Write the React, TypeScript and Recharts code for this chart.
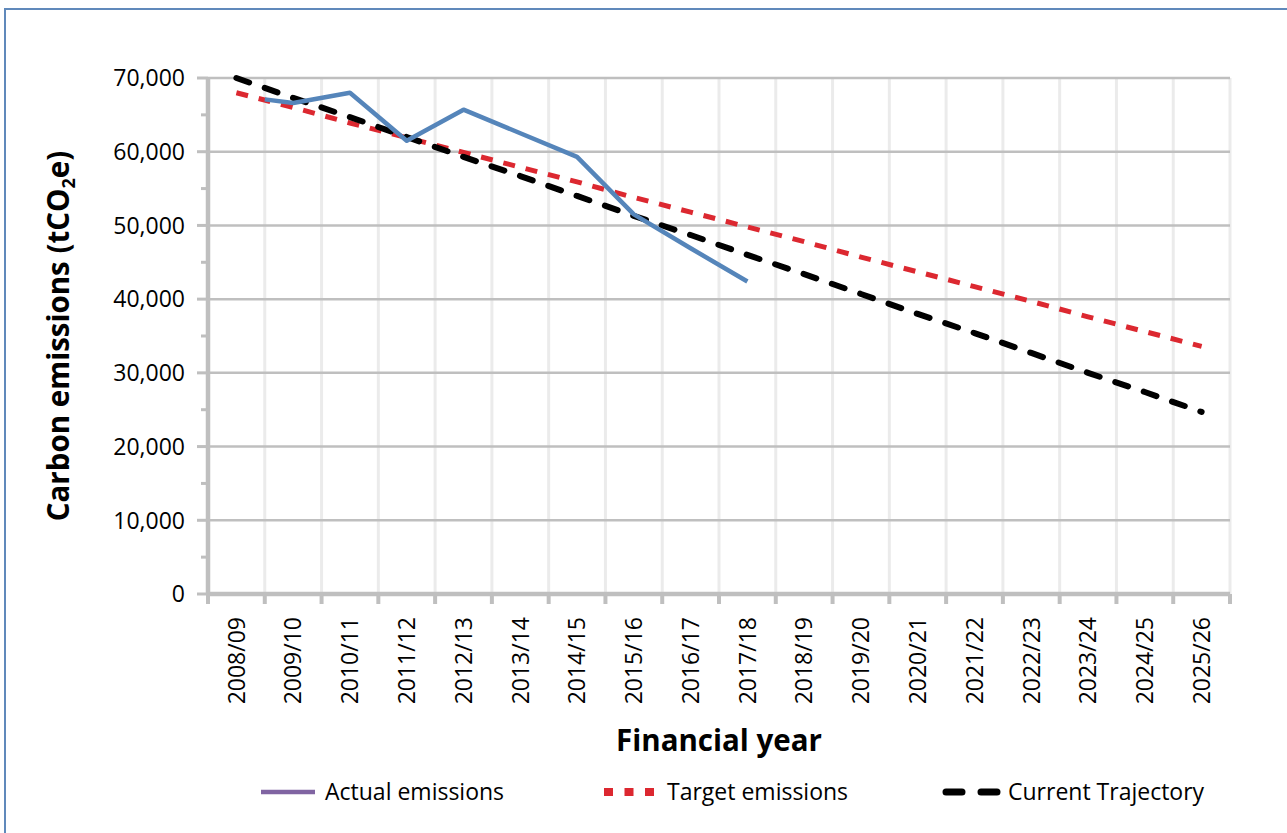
import React from 'react';
import { LineChart, Line, XAxis, YAxis, CartesianGrid } from 'recharts';

const categories = [
  '2008/09', '2009/10', '2010/11', '2011/12', '2012/13', '2013/14',
  '2014/15', '2015/16', '2016/17', '2017/18', '2018/19', '2019/20',
  '2020/21', '2021/22', '2022/23', '2023/24', '2024/25', '2025/26',
];

// The actual-emissions line begins on the boundary between the first two years.
const actualStartPosition = 1;
const actualStartValue = 67100;
const actualEmissions: (number | null)[] = [
  null, 66600, 68000, 61500, 65700, 62500, 59300, 51500, 46900, 42400,
  null, null, null, null, null, null, null, null,
];
const targetEmissions = [
  68000, 66000, 63900, 61900, 59900, 57900, 55900, 53800, 51800,
  49800, 47800, 45700, 43700, 41700, 39700, 37600, 35600, 33600,
];
const currentTrajectory = [
  70000, 67300, 64700, 62000, 59300, 56700, 54000, 51300, 48700,
  46000, 43400, 40700, 38000, 35400, 32700, 30000, 27400, 24700,
];
const yMajorTicks = [0, 10000, 20000, 30000, 40000, 50000, 60000, 70000];
const yMinorTicks = [5000, 15000, 25000, 35000, 45000, 55000, 65000];

const toRows = (values: (number | null)[]) =>
  values
    .map((value, i) => ({ pos: i + 0.5, value }))
    .filter((r) => r.value !== null);

const actualData = [{ pos: actualStartPosition, value: actualStartValue }, ...toRows(actualEmissions)];
const targetData = toRows(targetEmissions);
const trajectoryData = toRows(currentTrajectory);

const boundaries = categories.map((_, i) => i).concat([categories.length]);
const centers = categories.map((_, i) => i + 0.5);
const xTicks = [...boundaries, ...centers].sort((a, b) => a - b);
const yTicks = [...yMajorTicks, ...yMinorTicks].sort((a, b) => a - b);

const AXIS = '#bfbfbf';
const FONT = '"Open Sans", "Noto Sans", sans-serif';

const fmt = (v: number) => v.toLocaleString('en-US');

const XTick = (props: any) => {
  const { x, y, payload } = props;
  const v = payload.value as number;
  if (Number.isInteger(v)) {
    return <line x1={x} y1={y} x2={x} y2={y + 10} stroke={AXIS} strokeWidth={4} />;
  }
  const label = categories[Math.floor(v)];
  const ty = y + 23;
  return (
    <text
      x={x}
      y={ty}
      transform={`rotate(-90, ${x}, ${ty})`}
      textAnchor="end"
      dy="0.36em"
      fontFamily={FONT}
      fontSize={23}
      fill="#000"
    >
      {label}
    </text>
  );
};

const YTick = (props: any) => {
  const { x, y, payload } = props;
  const v = payload.value as number;
  const major = yMajorTicks.includes(v);
  return (
    <g>
      <line x1={x - (major ? 11 : 7)} y1={y} x2={x} y2={y} stroke={AXIS} strokeWidth={3} />
      {major && (
        <text x={x - 23} y={y} textAnchor="end" dy="0.36em" fontFamily={FONT} fontSize={23} fill="#000">
          {fmt(v)}
        </text>
      )}
    </g>
  );
};

const YTitle = (props: any) => {
  const vb = props.viewBox || { x: 0, y: 78, width: 208, height: 516 };
  const cx = vb.x + 69;
  const cy = vb.y + vb.height / 2;
  return (
    <text
      x={cx}
      y={cy}
      transform={`rotate(-90, ${cx}, ${cy})`}
      textAnchor="middle"
      fontFamily={FONT}
      fontWeight={700}
      fontSize={29.5}
      fill="#000"
    >
      Carbon emissions (tCO
      <tspan fontSize={18} dy={6}>2</tspan>
      <tspan dy={-6}>e)</tspan>
    </text>
  );
};

const XTitle = (props: any) => {
  const vb = props.viewBox || { x: 208, y: 594, width: 1022, height: 239 };
  return (
    <text
      x={vb.x + vb.width / 2}
      y={vb.y + 157}
      textAnchor="middle"
      fontFamily={FONT}
      fontWeight={700}
      fontSize={29.5}
      fill="#000"
    >
      Financial year
    </text>
  );
};

const legendText: React.CSSProperties = {
  position: 'absolute',
  top: 776,
  fontFamily: FONT,
  fontSize: 23,
  lineHeight: '30px',
  color: '#000',
  whiteSpace: 'nowrap',
};

export default function App() {
  return (
    <div style={{ position: 'fixed', left: 0, top: 0, width: 1287, height: 833, overflow: 'hidden', background: '#fff' }}>
      <div
        style={{
          position: 'absolute',
          left: 4,
          top: 8,
          width: 1400,
          height: 900,
          border: '2px solid #6089bb',
          boxSizing: 'border-box',
        }}
      />
      <div style={{ position: 'absolute', left: 0, top: 0 }}>
        <LineChart width={1287} height={833} margin={{ top: 78, right: 57, bottom: 0, left: 0 }}>
          <CartesianGrid
            xAxisId="x"
            yAxisId="y"
            horizontal={false}
            verticalValues={boundaries.slice(1)}
            stroke="#ebebeb"
            strokeWidth={3}
          />
          <CartesianGrid
            xAxisId="x"
            yAxisId="y"
            vertical={false}
            horizontalValues={yMajorTicks}
            stroke={AXIS}
            strokeWidth={2.5}
          />
          <XAxis
            xAxisId="x"
            dataKey="pos"
            type="number"
            domain={[0, categories.length]}
            ticks={xTicks}
            interval={0}
            tickSize={0}
            tickMargin={0}
            tickLine={false}
            axisLine={{ stroke: AXIS, strokeWidth: 4.5 }}
            tick={<XTick />}
            height={239}
            label={<XTitle />}
          />
          <YAxis
            yAxisId="y"
            type="number"
            domain={[0, 70000]}
            ticks={yTicks}
            interval={0}
            tickSize={0}
            tickMargin={0}
            tickLine={false}
            axisLine={{ stroke: AXIS, strokeWidth: 4.5 }}
            tick={<YTick />}
            width={208}
            label={<YTitle />}
          />
          <Line
            xAxisId="x"
            yAxisId="y"
            data={targetData}
            dataKey="value"
            name="Target emissions"
            stroke="#dc2830"
            strokeWidth={5}
            strokeDasharray="12 11"
            strokeLinecap="butt"
            dot={false}
            activeDot={false}
            isAnimationActive={false}
          />
          <Line
            xAxisId="x"
            yAxisId="y"
            data={trajectoryData}
            dataKey="value"
            name="Current Trajectory"
            stroke="#000"
            strokeWidth={6}
            strokeDasharray="13.5 16.5"
            strokeLinecap="round"
            dot={false}
            activeDot={false}
            isAnimationActive={false}
          />
          <Line
            xAxisId="x"
            yAxisId="y"
            data={actualData}
            dataKey="value"
            name="Actual emissions"
            stroke="#5585ba"
            strokeWidth={4.5}
            strokeLinejoin="round"
            dot={false}
            activeDot={false}
            isAnimationActive={false}
          />
        </LineChart>
      </div>
      <svg style={{ position: 'absolute', left: 0, top: 780 }} width={1287} height={24}>
        <line x1={261} y1={12} x2={315} y2={12} stroke="#8064a2" strokeWidth={4.5} />
        <line x1={604} y1={12} x2={656} y2={12} stroke="#dc2830" strokeWidth={8} strokeDasharray="9 11.5" />
        <line x1={946} y1={12} x2={1000} y2={12} stroke="#000" strokeWidth={7} strokeLinecap="round" strokeDasharray="16 19" />
      </svg>
      <div style={{ ...legendText, left: 325 }}>Actual emissions</div>
      <div style={{ ...legendText, left: 667 }}>Target emissions</div>
      <div style={{ ...legendText, left: 1008 }}>Current Trajectory</div>
    </div>
  );
}
